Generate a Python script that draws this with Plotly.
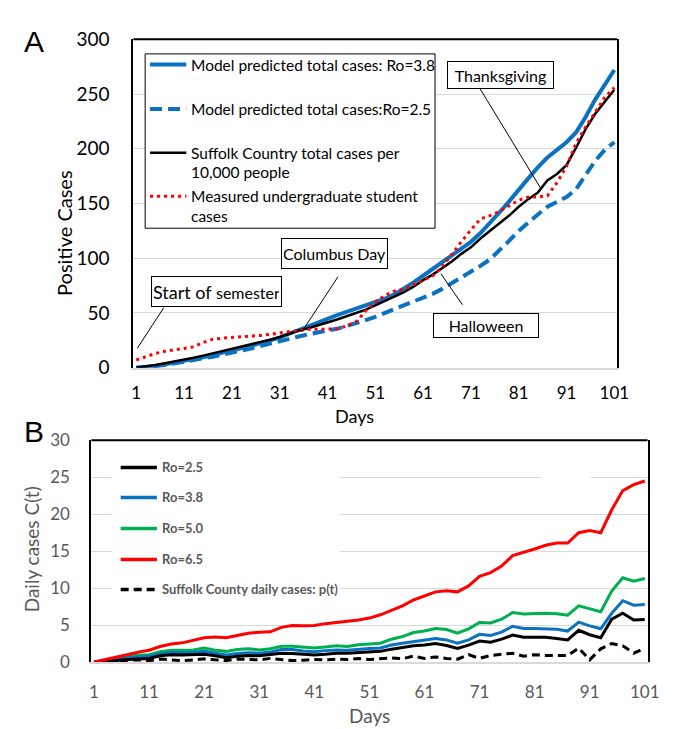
import plotly.graph_objects as go

# ---------------- data ----------------
days = list(range(1, 102, 2))  # sampled every 2 days
tick_days = list(range(1, 102, 10))

# Panel A: cumulative cases
a_model_ro38 = [0, 0.5, 1.5, 3, 4.5, 6, 7.5, 9.5, 11.5, 13.5,
                15.5, 18, 20, 22.5, 25, 27.5, 31, 34.5, 38, 41.5,
                45, 48, 51, 54, 57, 60, 63, 67, 72, 78,
                84, 90, 96, 102, 108, 115, 123, 132, 142, 152,
                163, 173, 183, 192, 199, 206, 215, 229, 245, 258,
                272]
a_model_ro25 = [0, 0.5, 1.5, 2.5, 4, 5, 6.5, 8, 10, 12,
                13.5, 15.5, 17.5, 20, 22, 24, 26.5, 28.5, 30.5, 32.5,
                34, 35.5, 38, 41, 43.5, 46.5, 50, 53, 57, 60,
                64, 67.5, 72, 77, 82, 87, 93, 99, 107, 116,
                125, 133, 140, 147, 152, 156, 163, 176, 189, 199,
                206]
a_suffolk_total = [0, 1, 2.5, 4, 5.5, 7, 9, 11, 13, 15,
                   17, 19.5, 21.5, 23.5, 25.5, 28, 31, 34, 36, 38.5,
                   41, 44, 47, 50, 53, 57, 61, 65, 69, 74,
                   80, 85, 91, 97, 104, 110, 118, 125, 132, 139,
                   147, 154, 160, 171, 177, 185, 201, 218, 232, 243,
                   254]
a_students = [7, 10, 13, 15, 16.5, 17.5, 19, 23, 26, 27,
              27.5, 28, 29, 29.5, 30.5, 32, 33, 34, 35, 35,
              35, 35.5, 38, 42, 52, 60, 66, 70, 72, 76,
              80, 84, 92, 104, 115, 126, 136, 139, 143, 148,
              153, 156, 156, 157, 169, 184, 205, 220, 234, 247,
              256]

# Panel B: daily cases
b_ro25 = [0, 0.05, 0.2, 0.35, 0.45, 0.5, 0.85, 1.0, 0.95, 0.95,
          1.05, 0.85, 0.6, 0.8, 0.9, 0.85, 1.0, 1.2, 1.15, 1.0,
          0.95, 1.05, 1.2, 1.2, 1.3, 1.35, 1.45, 1.75, 2.0, 2.2,
          2.3, 2.5, 2.25, 1.85, 2.3, 2.85, 2.7, 3.1, 3.65, 3.35,
          3.35, 3.35, 3.2, 3.0, 4.3, 3.7, 3.3, 5.8, 6.6, 5.7,
          5.75]
b_ro38 = [0, 0.1, 0.35, 0.55, 0.7, 0.75, 1.1, 1.3, 1.25, 1.3,
          1.45, 1.2, 0.95, 1.15, 1.25, 1.2, 1.35, 1.7, 1.7, 1.5,
          1.4, 1.55, 1.65, 1.6, 1.75, 1.85, 1.9, 2.3, 2.55, 2.8,
          2.95, 3.2, 3.0, 2.55, 3.0, 3.75, 3.6, 4.05, 4.85, 4.55,
          4.55, 4.55, 4.45, 4.2, 5.4, 4.9, 4.5, 6.6, 8.3, 7.7,
          7.8]
b_ro50 = [0, 0.2, 0.55, 0.8, 0.95, 1.0, 1.4, 1.6, 1.6, 1.65,
          1.9, 1.6, 1.45, 1.7, 1.8, 1.65, 1.8, 2.15, 2.15, 2.0,
          1.9, 2.05, 2.2, 2.1, 2.35, 2.45, 2.55, 3.1, 3.45, 4.0,
          4.2, 4.55, 4.4, 3.9, 4.5, 5.35, 5.3, 5.8, 6.7, 6.5,
          6.6, 6.6, 6.55, 6.35, 7.6, 7.2, 6.8, 9.6, 11.4, 10.95,
          11.3]
b_ro65 = [0, 0.3, 0.7, 1.0, 1.35, 1.6, 2.1, 2.45, 2.6, 2.9,
          3.3, 3.4, 3.3, 3.6, 3.9, 4.05, 4.1, 4.7, 4.95, 4.9,
          4.95, 5.2, 5.35, 5.6, 5.7, 5.95, 6.4, 7.0, 7.6, 8.4,
          9.0, 9.5, 9.65, 9.5, 10.3, 11.6, 12.1, 13.0, 14.4, 14.8,
          15.3, 15.8, 16.1, 16.1, 17.5, 17.8, 17.5, 20.6, 23.2, 24.0,
          24.5]
b_suffolk_daily = [0, 0.1, 0.2, 0.3, 0.3, 0.2, 0.4, 0.3, 0.2, 0.3,
                   0.45, 0.3, 0.2, 0.4, 0.4, 0.3, 0.5, 0.35, 0.2, 0.25,
                   0.35, 0.3, 0.4, 0.35, 0.5, 0.35, 0.4, 0.55, 0.45, 0.8,
                   0.5, 0.7, 0.5, 0.4, 1.0, 0.5, 0.9, 1.0, 1.2, 0.8,
                   1.0, 0.9, 0.85, 0.9, 1.9, 0.3, 1.8, 2.5, 2.2, 1.2,
                   1.9]

a_names = ["Model predicted total cases: Ro=3.8",
           "Model predicted total cases:Ro=2.5",
           "Suffolk Country total cases per 10,000 people",
           "Measured undergraduate student cases"]
b_names = ["Ro=2.5", "Ro=3.8", "Ro=5.0", "Ro=6.5",
           "Suffolk County daily cases: p(t)"]
events = ["Start of semester", "Columbus Day", "Halloween", "Thanksgiving"]

# ---------------- styling ----------------
W, H = 677, 729
FONT = "Lato"
BLUE = "#0B72C2"
GREEN = "#00B050"
RED = "#FF0000"
GRID = "#D9D9D9"
GRAYTXT = "#595959"
DASH_A = "12px,6px"
DOT_A = "3px,4px"
DASH_B = "8px,5px"


def px(x):
    return x / W


def py(y):
    return 1 - y / H


fig = go.Figure()

# Panel A traces
fig.add_trace(go.Scatter(x=days, y=a_model_ro25, name=a_names[1], mode="lines",
                         line=dict(color=BLUE, width=4, dash=DASH_A), xaxis="x", yaxis="y"))
fig.add_trace(go.Scatter(x=days, y=a_model_ro38, name=a_names[0], mode="lines",
                         line=dict(color=BLUE, width=4), xaxis="x", yaxis="y"))
fig.add_trace(go.Scatter(x=days, y=a_suffolk_total, name=a_names[2], mode="lines",
                         line=dict(color="black", width=2.5), xaxis="x", yaxis="y"))
fig.add_trace(go.Scatter(x=days, y=a_students, name=a_names[3], mode="lines",
                         line=dict(color=RED, width=3, dash=DOT_A), xaxis="x", yaxis="y"))

# Panel B traces
for vals, name, col, dash in [(b_suffolk_daily, b_names[4], "black", DASH_B),
                              (b_ro50, b_names[2], GREEN, None),
                              (b_ro38, b_names[1], BLUE, None),
                              (b_ro25, b_names[0], "black", None),
                              (b_ro65, b_names[3], RED, None)]:
    fig.add_trace(go.Scatter(x=days, y=vals, name=name, mode="lines",
                             line=dict(color=col, width=3, dash=dash),
                             xaxis="x2", yaxis="y2"))

shapes = []
annotations = []


def line_shape(x0, y0, x1, y1, color="black", width=1, dash=None):
    return dict(type="line", xref="paper", yref="paper",
                x0=px(x0), y0=py(y0), x1=px(x1), y1=py(y1),
                line=dict(color=color, width=width, dash=dash), layer="above")


def text(x, y, s, size, color="black", xanchor="left", family=FONT, **kw):
    return dict(x=px(x), y=py(y), xref="paper", yref="paper", text=s,
                showarrow=False, xanchor=xanchor, yanchor="middle",
                font=dict(family=family, size=size, color=color), **kw)


# top borders of both plot areas
for ax in ["", "2"]:
    shapes.append(dict(type="line", xref="x%s domain" % ax, yref="y%s domain" % ax,
                       x0=0, x1=1, y0=1, y1=1, line=dict(color="black", width=2),
                       layer="above"))

# Panel A legend box
shapes.append(dict(type="rect", xref="paper", yref="paper",
                   x0=px(138), x1=px(434), y0=py(35), y1=py(215),
                   fillcolor="white", line=dict(color="black", width=1), layer="above"))
shapes.append(line_shape(143, 46, 180, 46, BLUE, 4))
shapes.append(line_shape(143, 92, 180, 92, BLUE, 4, DASH_A))
shapes.append(line_shape(143, 137, 180, 137, "black", 2.5))
shapes.append(line_shape(143, 182, 180, 182, RED, 3, DOT_A))
LA = 15.5
annotations += [
    text(183, 46, a_names[0], LA),
    text(183, 92, a_names[1], LA),
    text(183, 137, "Suffolk Country total cases per", LA),
    text(183, 157, "10,000 people", LA),
    text(183, 182, "Measured undergraduate student", LA),
    text(183, 202, "cases", LA),
]

# Panel B legend (white background, no border)
shapes.append(dict(type="rect", xref="paper", yref="paper",
                   x0=px(104), x1=px(337), y0=py(440), y1=py(610),
                   fillcolor="white", line=dict(width=0), layer="above"))
shapes.append(dict(type="rect", xref="paper", yref="paper",
                   x0=px(542), x1=px(593), y0=py(468), y1=py(478),
                   fillcolor="white", line=dict(width=0), layer="above"))
leg_b = [(462, "black", None), (493, BLUE, None), (525, GREEN, None),
         (557, RED, None), (588, "black", DASH_B)]
for (yy, col, dash), name in zip(leg_b, b_names):
    shapes.append(line_shape(113, yy, 150, yy, col, 3.5, dash))
    annotations.append(text(153, yy, "<b>%s</b>" % name, 13, GRAYTXT))

# Event call-outs
event_boxes = [
    (211, 280.5, 'Start of <span style="font-size:16px">semester</span>', 125, 25, 18),
    (331, 241.5, events[1], 101, 25, 16),
    (486, 315.5, events[2], 100, 19, 16),
    (501, 57, events[3], 101, 22, 16),
]
for x, y, s, w, h, fs in event_boxes:
    annotations.append(dict(x=px(x), y=py(y), xref="paper", yref="paper", text=s,
                            showarrow=False, xanchor="center", yanchor="middle",
                            width=w, height=h, borderpad=2, borderwidth=1,
                            bordercolor="black", bgcolor="white",
                            font=dict(family=FONT, size=fs, color="black")))
shapes += [
    line_shape(157, 297, 130, 339),
    line_shape(335, 265, 298, 322),
    line_shape(462, 294, 440, 262),
    line_shape(480, 71, 542, 174),
]

# Panel letters and axis titles
annotations += [
    text(24, 22, "A", 30, family="Liberation Sans", xanchor="center"),
    text(24, 425, "B", 30, family="Liberation Sans", xanchor="center"),
    text(352, 409, "Days", 18, xanchor="center"),
    text(55, 220, "Positive Cases", 20, xanchor="center", textangle=-90),
    text(367, 718, "Days", 19, GRAYTXT, xanchor="center"),
    text(22, 547, "Daily cases C(t)", 19, GRAYTXT, xanchor="center", textangle=-90),
]

fig.update_layout(
    width=W, height=H,
    margin=dict(l=0, r=0, t=0, b=0),
    paper_bgcolor="white", plot_bgcolor="white",
    showlegend=False,
    font=dict(family=FONT),
    xaxis=dict(domain=[px(126), px(620)], anchor="y", range=[0.4, 101.6],
               tickvals=tick_days, showgrid=False, zeroline=False,
               showline=True, linecolor=GRID, linewidth=2, ticks="",
               ticklabelstandoff=9, tickfont=dict(size=17, color="black")),
    yaxis=dict(domain=[py(359), py(20)], anchor="x", range=[0, 300], dtick=50,
               showgrid=True, gridcolor=GRID, gridwidth=1, zeroline=False,
               showline=True, linecolor="black", linewidth=2, mirror=True,
               ticks="", ticklabelstandoff=18, tickfont=dict(size=19, color="black")),
    xaxis2=dict(domain=[px(83), px(651)], anchor="y2", range=[0.5, 101.5],
                tickvals=tick_days, showgrid=False, zeroline=False,
                showline=True, linecolor=GRID, linewidth=2, ticks="",
                ticklabelstandoff=14, tickfont=dict(size=17, color=GRAYTXT)),
    yaxis2=dict(domain=[py(663), py(434)], anchor="x2", range=[0, 30], dtick=5,
                showgrid=True, gridcolor=GRID, gridwidth=1, zeroline=False,
                showline=True, linecolor="black", linewidth=2, mirror=True,
                ticks="", ticklabelstandoff=16, tickfont=dict(size=17, color=GRAYTXT)),
    shapes=shapes,
    annotations=annotations,
)

fig.write_html("out.html")
